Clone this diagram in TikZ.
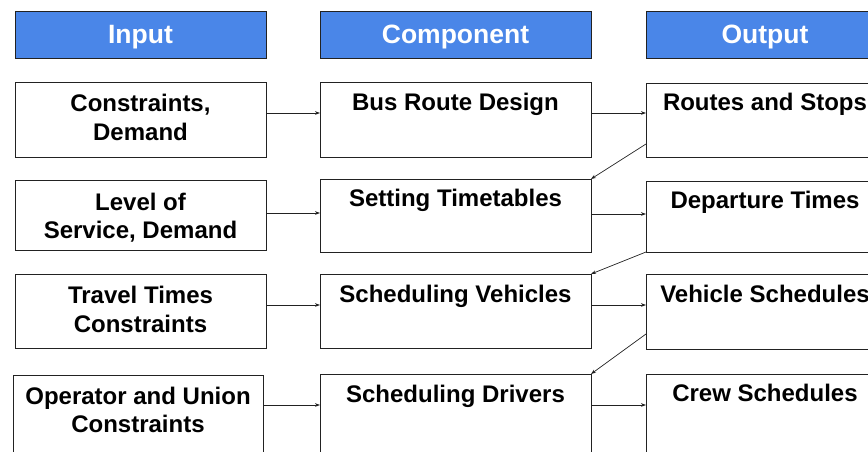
\documentclass[tikz,border=0pt]{standalone}
\usepackage{fontspec}
\setmainfont{Liberation Sans}
\usetikzlibrary{arrows.meta}
\definecolor{hdr}{HTML}{4A86E8}
\definecolor{edge}{HTML}{222222}
\begin{document}
\begin{tikzpicture}[x=1pt,y=-1pt,
  box/.style={draw=edge, line width=0.9pt, rectangle, inner sep=0pt, outer sep=0pt, fill=white},
  hbox/.style={box, fill=hdr},
  htext/.style={text=white, font=\fontsize{26.5}{30}\selectfont\bfseries, anchor=base, inner sep=0pt},
  btext/.style={font=\fontsize{24}{29}\selectfont\bfseries, anchor=base, inner sep=0pt},
  arr/.style={draw=edge, -{Stealth[length=5pt,width=3.6pt]}, line width=0.7pt}]
\useasboundingbox (0,0) rectangle (868,451);
\clip (0,0) rectangle (868,451);
% headers
\node[hbox, minimum width=251pt, minimum height=47pt] (h1) at (140.5,34.5) {};
\node[hbox, minimum width=271pt, minimum height=47pt] (h2) at (455.5,34.5) {};
\node[hbox, minimum width=238pt, minimum height=47pt] (h3) at (765,34.5) {};
\node[htext] (h1t) at (140.5,43) {Input};
\node[htext] (h2t) at (455.5,43) {Component};
\node[htext] (h3t) at (765,43) {Output};
% row 1
\node[box, minimum width=251pt, minimum height=75pt] (in1) at (140.5,119.5) {};
\node[box, minimum width=271pt, minimum height=75pt] (c1) at (455.5,119.5) {};
\node[box, minimum width=238pt, minimum height=74pt] (o1) at (765,120) {};
\node[btext] (in1a) at (140.5,111) {Constraints,};
\node[btext] (in1b) at (140.5,140) {Demand};
\node[btext] (c1t) at (455.5,110) {Bus Route Design};
\node[btext] (o1t) at (765,110) {Routes and Stops};
% row 2
\node[box, minimum width=251pt, minimum height=70pt] (in2) at (140.5,215) {};
\node[box, minimum width=271pt, minimum height=73pt] (c2) at (455.5,215.5) {};
\node[box, minimum width=238pt, minimum height=71pt] (o2) at (765,216.5) {};
\node[btext] (in2a) at (140.5,210) {Level of};
\node[btext] (in2b) at (140.5,238) {Service, Demand};
\node[btext] (c2t) at (455.5,206) {Setting Timetables};
\node[btext] (o2t) at (765,208) {Departure Times};
% row 3
\node[box, minimum width=251pt, minimum height=74pt] (in3) at (140.5,311) {};
\node[box, minimum width=271pt, minimum height=74pt] (c3) at (455.5,311) {};
\node[box, minimum width=238pt, minimum height=75pt] (o3) at (765,311.5) {};
\node[btext] (in3a) at (140.5,303) {Travel Times};
\node[btext] (in3b) at (140.5,332) {Constraints};
\node[btext] (c3t) at (455.5,302) {Scheduling Vehicles};
\node[btext] (o3t) at (765,302) {Vehicle Schedules};
% row 4
\node[box, minimum width=250pt, minimum height=95pt] (in4) at (138,422.5) {};
\node[box, minimum width=271pt, minimum height=96pt] (c4) at (455.5,422) {};
\node[box, minimum width=238pt, minimum height=96pt] (o4) at (765,422) {};
\node[btext] (in4a) at (138,404) {Operator and Union};
\node[btext] (in4b) at (138,432) {Constraints};
\node[btext] (c4t) at (455.5,402) {Scheduling Drivers};
\node[btext] (o4t) at (765,401) {Crew Schedules};
% horizontal connectors
\draw[arr] (in1.east |- 0,113) -- (c1.west |- 0,113);
\draw[arr] (c1.east |- 0,113) -- (o1.west |- 0,113);
\draw[arr] (in2.east |- 0,213) -- (c2.west |- 0,213);
\draw[arr] (c2.east |- 0,214) -- (o2.west |- 0,214);
\draw[arr] (in3.east |- 0,305) -- (c3.west |- 0,305);
\draw[arr] (c3.east |- 0,305) -- (o3.west |- 0,305);
\draw[arr] (in4.east |- 0,405) -- (c4.west |- 0,405);
\draw[arr] (c4.east |- 0,405) -- (o4.west |- 0,405);
% diagonal connectors
\draw[arr] (o1.west |- 0,144) -- (c2.north east);
\draw[arr] (o2.south west) -- (c3.north east);
\draw[arr] (o3.west |- 0,334) -- (c4.north east);
\end{tikzpicture}
\end{document}
